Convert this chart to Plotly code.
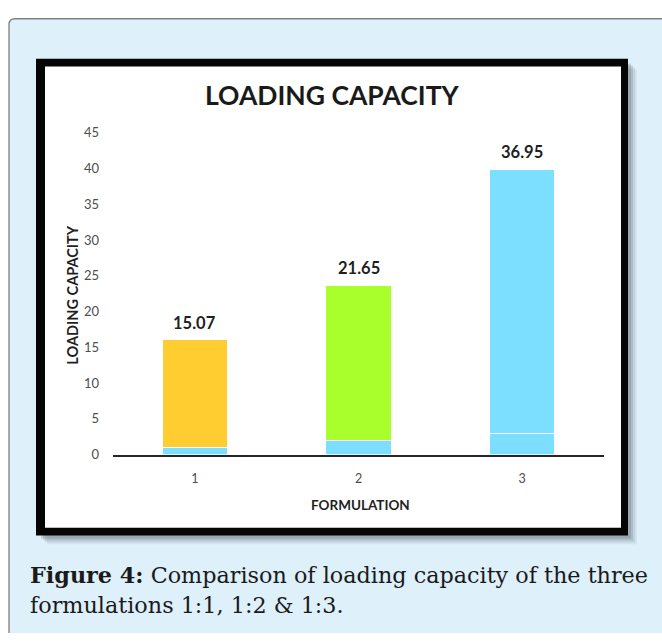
import plotly.graph_objects as go

# Formulation categories and their stacked loading-capacity components
formulations = ["1", "2", "3"]
base_values = [1.0, 2.0, 3.0]
loading_values = [15.07, 21.65, 36.95]
top_colors = ["#FFCD30", "#A8FF2B", "#7DDFFF"]
base_color = "#7DDFFF"
y_ticks = [0, 5, 10, 15, 20, 25, 30, 35, 40, 45]

W, H = 662, 641


def px(x):
    return x / W


def py(y):
    return 1 - y / H


fig = go.Figure()

fig.add_trace(go.Bar(
    x=formulations, y=base_values, width=0.4,
    marker=dict(color=base_color, line=dict(color="white", width=1.2)),
    hoverinfo="skip", showlegend=False,
))
fig.add_trace(go.Bar(
    x=formulations, y=loading_values, width=0.4,
    marker=dict(color=top_colors, line=dict(color="white", width=1.2)),
    hoverinfo="skip", showlegend=False,
))

shapes = []

# light-blue figure panel with rounded top-left corner
x0, y0, r = 9, 11, 6
panel_fill = (
    f"M {px(x0)},{py(H)} L {px(x0)},{py(y0 + r)} "
    f"Q {px(x0)},{py(y0)} {px(x0 + r)},{py(y0)} L {px(W)},{py(y0)} "
    f"L {px(W)},{py(H)} Z"
)
shapes.append(dict(type="path", xref="paper", yref="paper", path=panel_fill,
                   fillcolor="#DEF0FA", line=dict(width=0), layer="below"))
panel_edge = (
    f"M {px(x0)},{py(H)} L {px(x0)},{py(y0 + r)} "
    f"Q {px(x0)},{py(y0)} {px(x0 + r)},{py(y0)} L {px(W)},{py(y0)}"
)
shapes.append(dict(type="path", xref="paper", yref="paper", path=panel_edge,
                   line=dict(color="#808080", width=1.3), layer="below"))

# soft drop shadow behind the framed chart
for off, op in [(9, 0.08), (7, 0.12), (5, 0.16), (3, 0.20)]:
    shapes.append(dict(type="rect", xref="paper", yref="paper",
                       x0=px(38 + off), x1=px(628 + off),
                       y0=py(541 + off), y1=py(54 + off),
                       fillcolor=f"rgba(70,80,90,{op})", line=dict(width=0),
                       layer="below"))

# black frame and white chart area
shapes.append(dict(type="rect", xref="paper", yref="paper",
                   x0=px(36), x1=px(628), y0=py(541), y1=py(52),
                   fillcolor="#050505", line=dict(width=0), layer="below"))
shapes.append(dict(type="rect", xref="paper", yref="paper",
                   x0=px(45), x1=px(621), y0=py(533), y1=py(60),
                   fillcolor="#FFFFFF", line=dict(width=0), layer="below"))

annotations = [
    dict(text="LOADING CAPACITY", x=px(332), y=py(89), xref="paper", yref="paper",
         showarrow=False, xanchor="center", yanchor="middle",
         font=dict(family="Lato", size=26.5, color="#1A1A1A", weight="bold")),
    dict(text="LOADING CAPACITY", x=px(73), y=py(295), xref="paper", yref="paper",
         showarrow=False, textangle=-90, xanchor="center", yanchor="middle",
         font=dict(family="Lato", size=14.5, color="#1F1F1F", weight="bold")),
    dict(text="FORMULATION", x=px(361), y=py(510), xref="paper", yref="paper",
         showarrow=False, xanchor="center", yanchor="middle",
         font=dict(family="Lato", size=13.5, color="#1F1F1F", weight="bold")),
    dict(text="<b>Figure 4:</b> Comparison of loading capacity of the three",
         x=px(28), y=py(582), xref="paper", yref="paper",
         showarrow=False, xanchor="left", yanchor="middle",
         font=dict(family="DejaVu Serif", size=22.3, color="#1A1A1A")),
    dict(text="formulations 1:1, 1:2 &amp; 1:3.",
         x=px(28), y=py(612), xref="paper", yref="paper",
         showarrow=False, xanchor="left", yanchor="middle",
         font=dict(family="DejaVu Serif", size=22.3, color="#1A1A1A")),
]

# value labels sitting above each stacked bar (x given as category index)
for i, (b, v) in enumerate(zip(base_values, loading_values)):
    annotations.append(dict(
        text=f"<b>{v:.2f}</b>", x=i, y=b + v, xref="x", yref="y",
        showarrow=False, xanchor="center", yanchor="bottom", yshift=5,
        font=dict(family="Lato", size=16.5, color="#1F1F1F"),
    ))

fig.update_layout(
    width=W, height=H,
    margin=dict(l=0, r=0, t=0, b=0),
    paper_bgcolor="white", plot_bgcolor="rgba(0,0,0,0)",
    barmode="stack", bargap=0.6,
    shapes=shapes, annotations=annotations,
    xaxis=dict(domain=[px(113), px(604)], type="category",
               range=[-0.5, 2.5], showgrid=False, zeroline=False,
               showline=True, linecolor="#262626", linewidth=1.6,
               ticks="", ticklabelstandoff=12,
               tickfont=dict(family="Lato", size=12.5, color="#4D4D4D"),
               fixedrange=True),
    yaxis=dict(domain=[py(458), py(128)], range=[0, 45],
               tickvals=y_ticks, showgrid=False, zeroline=False,
               showline=False, ticks="", ticklabelstandoff=13,
               tickfont=dict(family="Lato", size=13, color="#4D4D4D"),
               fixedrange=True),
)

fig.write_html("out.html")
